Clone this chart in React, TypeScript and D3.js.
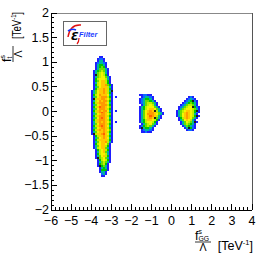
import React from 'react';
import * as d3 from 'd3';

// ---- axes ----
const xDomain: [number, number] = [-6, 4];
const yDomain: [number, number] = [-2, 2];
const xTickValues = [-6, -5, -4, -3, -2, -1, 0, 1, 2, 3, 4];
const yTickValues = [-2, -1.5, -1, -0.5, 0, 0.5, 1, 1.5, 2];
const xTitleSub = 'GG';
const yTitleSub = 't';

// ---- histogram binning ----
const binWidth = 0.1;
const binHeight = 0.04;

// colour levels (content of each bin)
const levelKeys = ['1', '2', '3', '4', '5', '6', '7', '8', '9', 'a', 'k'];
const levelColors = ['#1e1eff', '#0a6cff', '#00b89a', '#00c800', '#6cdc00', '#bff000', '#f5f500', '#ffc800', '#ff9a00', '#ff6000', '#1c1c1c'];

// big blob: left bin edge x, top bin edge y
const bigBlobOrigin = [-4.0, 1.12];
const bigBlobRows = [
  '....11.......',
  '...1221......',
  '...1331......',
  '..123321.....',
  '..134431.....',
  '..134541.....',
  '..1355531....',
  '.13456531....',
  '.13567631....',
  '.1k567641....',
  '.135677531...',
  '.146777631...',
  '.145788641...',
  '.136788641...',
  '.1467889541..',
  '.1357888631..',
  '.1468898641..',
  '1357889863k..',
  '13578898641..',
  '14679888731..',
  '13578999641.1',
  '1k688998751..',
  '13679899641..',
  '14689998731..',
  '13578999641..',
  '1468a998751..',
  '13579998641..',
  '14689899731.1',
  '13689a98641..',
  '13578998751..',
  '14689998641..',
  '13579a98731..',
  '14689998641..',
  '13689898751.1',
  '13579998641..',
  '14689a98731..',
  '13578998641..',
  '14689898751..',
  '13578898641..',
  '1k6889a8731..',
  '.1468898641..',
  '.1357898731..',
  '.1468888641..',
  '.1357889631..',
  '.146788751...',
  '.135788641...',
  '.136788531...',
  '..14678641...',
  '..13678531...',
  '..14677631...',
  '..13578641...',
  '..1k567531...',
  '...1467641...',
  '...1356531...',
  '...145641....',
  '...1k4531....',
  '....13431....',
  '....14441....',
  '....1331.....',
  '.....231.....',
  '.....11......',
];

const midBlobOrigin = [-1.6, 0.36];
const midBlobRows = [
  '112211......',
  '.123321.....',
  '1234431.....',
  '12355431....',
  '123566531...',
  '.13567631...',
  '1346777531..',
  '13467887531.',
  '1357898k631.',
  '135789986531',
  '135799987531',
  '13578a98631.',
  '1357898k531.',
  '1346887641..',
  '134677641...',
  '.13567531...',
  '12456531....',
  '1k34431.....',
  '.123321.....',
  '.11211......',
];

const rightBlobOrigin = [0.2, 0.32];
const rightBlobRows = [
  '......121...',
  '.....12321..',
  '....1234k21.',
  '...12345431.',
  '..123566531.',
  '.1235677k421',
  '.13567776531',
  '1356788764k1',
  '135689876421',
  '13578987631.',
  '1357898764k1',
  '.1468987531.',
  '.135787631..',
  '..1357653k1.',
  '..13565431..',
  '...1354321..',
  '....13k421..',
  '.....1221...',
];

const W = 266;
const H = 259;
const frame = { left: 51, right: 252, top: 13, bottom: 210 };
const font = "'Liberation Sans', Arial, Helvetica, sans-serif";

const fmt = (v: number) => String(v).replace('-', '\u2212');

function cellsOf(origin: number[], rows: string[]) {
  const out: { x0: number; x1: number; y0: number; y1: number; level: string }[] = [];
  rows.forEach((row, r) => {
    row.split('').forEach((ch, c) => {
      if (ch === '.') return;
      out.push({
        x0: origin[0] + c * binWidth,
        x1: origin[0] + (c + 1) * binWidth,
        y1: origin[1] - r * binHeight,
        y0: origin[1] - (r + 1) * binHeight,
        level: ch,
      });
    });
  });
  return out;
}

function FracTitle({ sub, fracCx, tevLen, fs }: { sub: string; fracCx: number; tevLen?: number; fs: number }) {
  return (
    <g fontFamily={font} fill="#000">
      <text x={0} y={8} fontSize={fs} textAnchor="end" textLength={tevLen} lengthAdjust={tevLen ? 'spacingAndGlyphs' : undefined}>
        [TeV<tspan fontSize={fs * 0.6} dy={-5}>-1</tspan><tspan dy={5}>]</tspan>
      </text>
      <text x={fracCx - 8} y={-2} fontSize={fs}>f</text>
      <text x={fracCx - 4.5} y={-8.5} fontSize={fs * 0.55}>s</text>
      <text x={fracCx - 4.5} y={-1.5} fontSize={fs * 0.55}>{sub}</text>
      <line x1={fracCx - 8} x2={fracCx + 8} y1={0} y2={0} stroke="#000" strokeWidth={0.8} />
      <text x={fracCx} y={9} fontSize={fs * 0.85} textAnchor="middle">Λ</text>
    </g>
  );
}

export default function App() {
  const x = d3.scaleLinear().domain(xDomain).range([frame.left, frame.right]);
  const y = d3.scaleLinear().domain(yDomain).range([frame.bottom, frame.top]);
  const color = d3.scaleOrdinal<string, string>().domain(levelKeys).range(levelColors);

  const cells = [
    ...cellsOf(bigBlobOrigin, bigBlobRows),
    ...cellsOf(midBlobOrigin, midBlobRows),
    ...cellsOf(rightBlobOrigin, rightBlobRows),
  ];

  const xMinor = x.ticks(50);
  const yMinor = y.ticks(40);

  return (
    <svg width={W} height={H} style={{ position: 'fixed', left: 0, top: 0, background: '#fff' }}>
      <rect x={0} y={0} width={W} height={H} fill="#fff" />
      <g shapeRendering="crispEdges">
        {cells.map((d, i) => (
          <rect
            key={i}
            x={x(d.x0)}
            y={y(d.y1)}
            width={x(d.x1) - x(d.x0)}
            height={y(d.y0) - y(d.y1)}
            fill={color(d.level)}
          />
        ))}
      </g>
      {/* frame */}
      <g shapeRendering="crispEdges" stroke="#000" strokeWidth={1}>
        <line x1={frame.left} x2={frame.right} y1={frame.top} y2={frame.top} stroke="#888" />
        <line x1={frame.right} x2={frame.right} y1={frame.top} y2={frame.bottom} stroke="#555" />
        <line x1={frame.left} x2={frame.right} y1={frame.bottom} y2={frame.bottom} />
        <line x1={frame.left} x2={frame.left} y1={frame.top} y2={frame.bottom} />
        {xMinor.map((t, i) => (
          <line key={'xm' + i} x1={x(t)} x2={x(t)} y1={frame.bottom} y2={frame.bottom - 3} />
        ))}
        {xTickValues.map((t, i) => (
          <line key={'xM' + i} x1={x(t)} x2={x(t)} y1={frame.bottom} y2={frame.bottom - 6} />
        ))}
        {yMinor.map((t, i) => (
          <line key={'ym' + i} x1={frame.left} x2={frame.left + 3} y1={y(t)} y2={y(t)} />
        ))}
        {yTickValues.map((t, i) => (
          <line key={'yM' + i} x1={frame.left} x2={frame.left + 6} y1={y(t)} y2={y(t)} />
        ))}
      </g>
      <g fontFamily={font} fontSize={12.5} fill="#000">
        {xTickValues.map((t, i) => (
          <text key={'xl' + i} x={x(t)} y={frame.bottom + 15} textAnchor="middle">{fmt(t)}</text>
        ))}
        {yTickValues.map((t, i) => (
          <text key={'yl' + i} x={frame.left - 2} y={y(t) + 4} textAnchor="end">{fmt(t)}</text>
        ))}
      </g>
      <g transform={`translate(${frame.right + 1},242)`}>
        <FracTitle sub={xTitleSub} fracCx={-50} fs={12.5} />
      </g>
      <g transform={`translate(13,${frame.top - 1}) rotate(-90)`}>
        <FracTitle sub={yTitleSub} fracCx={-42} tevLen={27} fs={12.5} />
      </g>
      {/* logo */}
      <g>
        <rect x={63.5} y={21.5} width={43} height={24} fill="#fff" stroke="#666" strokeWidth={1} />
        <path d="M68,37 Q70,24 81,25" fill="none" stroke="#e01010" strokeWidth={1.4} />
        <path d="M79,38 Q79,42 77,44" fill="none" stroke="#e01010" strokeWidth={1.2} />
        <path d="M68,31 Q72,28 76,30" fill="none" stroke="#1030ff" strokeWidth={1.6} />
        <text x={71} y={40} fontFamily="'DejaVu Sans', sans-serif" fontWeight="bold" fontStyle="italic" fontSize={11} fill="#000">Ɛ</text>
        <text x={79} y={37} fontFamily={font} fontWeight="bold" fontStyle="italic" fontSize={7.5} fill="#1a3cff">Filter</text>
      </g>
    </svg>
  );
}
